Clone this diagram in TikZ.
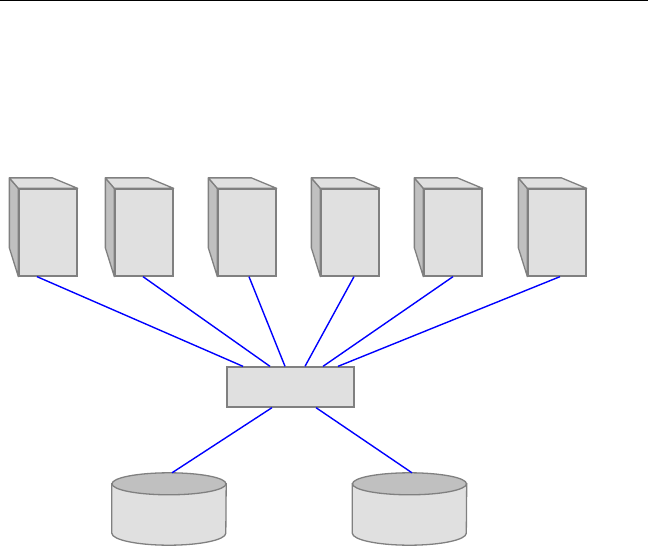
\documentclass[tikz,border=0pt]{standalone}
\definecolor{boxgray}{HTML}{E0E0E0}
\definecolor{sidegray}{HTML}{C0C0C0}
\definecolor{edgegray}{HTML}{808080}
\tikzset{
  front/.style={draw=edgegray,fill=boxgray,line width=1.3pt,minimum width=58pt,minimum height=87pt,inner sep=0pt},
  face/.style={draw=edgegray,line width=1.3pt,line join=round},
  hubbox/.style={draw=edgegray,fill=boxgray,line width=1.3pt,minimum width=127pt,minimum height=40pt,inner sep=0pt},
  diskbox/.style={minimum width=114pt,minimum height=72pt,inner sep=0pt},
  diskface/.style={draw=edgegray,line width=1.3pt},
  link/.style={draw=blue,line width=1.4pt}
}
% one server: front face, then side and top faces
\newcommand{\server}[2]{
  \node[front] (#1) at (#2,232.5) {};
  \draw[face,fill=sidegray] (#1.north west) -- ++(-9,-10.5) -- ++(0,70) -- (#1.south west) -- cycle;
  \draw[face,fill=boxgray] (#1.north west) -- ++(-9,-10.5) -- ++(43,0) -- (#1.north east) -- cycle;
}
% one disk: body, then top ellipse
\newcommand{\disk}[2]{
  \node[diskbox] (#1) at (#2,509) {};
  \draw[diskface,fill=boxgray] ([yshift=-11pt]#1.north west) -- ([yshift=12pt]#1.south west)
    arc[start angle=180,end angle=360,x radius=57pt,y radius=12pt] -- ([yshift=-11pt]#1.north east) -- cycle;
  \draw[diskface,fill=sidegray] ([yshift=-11pt]#1.north) ellipse[x radius=57pt,y radius=11pt];
}
\begin{document}
\begin{tikzpicture}[x=1pt,y=-1pt]
\useasboundingbox (0,0) rectangle (648,554);
\coordinate (ruleL) at (0,0.5);
\coordinate (ruleR) at (648,0.5);
\draw[black,line width=1pt] (ruleL) -- (ruleR);

\server{S1}{48}
\server{S2}{144}
\server{S3}{247}
\server{S4}{350}
\server{S5}{453}
\server{S6}{557}

\node[hubbox] (H) at (290.5,387) {};
\disk{D1}{169}
\disk{D2}{409.5}

\draw[link] ([xshift=-11pt]S1.south) -- ([xshift=-47.5pt]H.north);
\draw[link] ([xshift=-1pt]S2.south) -- ([xshift=-20.5pt]H.north);
\draw[link] ([xshift=2pt]S3.south) -- ([xshift=-5.5pt]H.north);
\draw[link] ([xshift=4pt]S4.south) -- ([xshift=14.5pt]H.north);
\draw[link] (S5.south) -- ([xshift=32.5pt]H.north);
\draw[link] ([xshift=3pt]S6.south) -- ([xshift=47.5pt]H.north);

\draw[link] ([xshift=-18.5pt]H.south) -- ([xshift=3pt]D1.north);
\draw[link] ([xshift=25.5pt]H.south) -- ([xshift=2.5pt]D2.north);
\end{tikzpicture}
\end{document}
